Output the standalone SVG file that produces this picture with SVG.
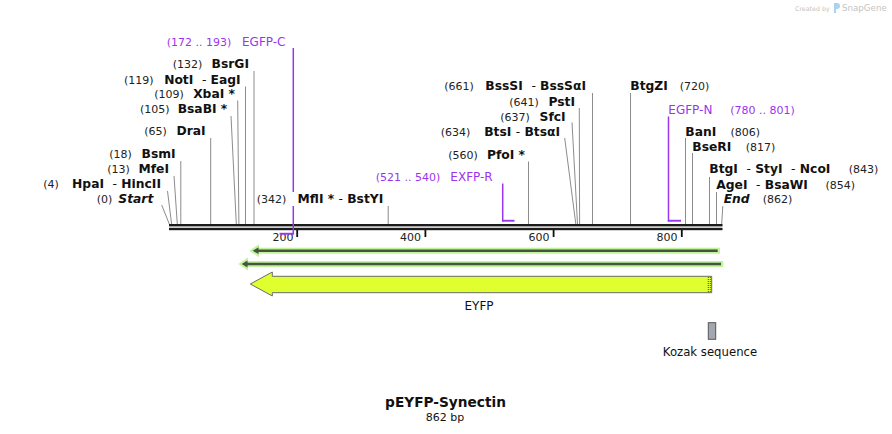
<svg xmlns="http://www.w3.org/2000/svg" width="892" height="434" viewBox="0 0 892 434">
<style>
text{font-family:"DejaVu Sans","Liberation Sans",sans-serif}
.num{font-size:11px;fill:#222}
.nm{font-size:12.3px;font-weight:bold;fill:#111}
.it{font-style:italic}
.d{font-weight:normal}
.pr{fill:#9b34f0}
.prs{font-size:12px}
.ld{stroke:#8c8c8c;stroke-width:1;fill:none}
.pl{stroke:#9b34f0;stroke-width:1.5;fill:none}
.bar{fill:#9b34f0}
.tick{fill:#111}
.tl{font-size:11px;fill:#222;text-anchor:end}
.halo{fill:#bff39c}
.orf{stroke:#46533f;stroke-width:2.4}
.orfh{fill:#46533f}
</style>

<g id="watermark">
<text x="795" y="10.5" style="font-size:6.3px;fill:#c4c4c4">Created by</text>
<path d="M834,3 h3 a3,3 0 0 1 0,6 h-1 v4 h-2 z" fill="#a8d4f2"/>
<text x="842" y="11" style="font-size:8.7px;fill:#c4c4c4">SnapGene</text>
</g>

<g id="backbone">
<rect x="169" y="224" width="553.5" height="2.4" fill="#1c1c1c"/>
<rect x="169" y="227.8" width="553.5" height="2.4" fill="#1c1c1c"/>
<rect class="tick" x="296.3" y="230" width="1.8" height="7"/>
<rect class="tick" x="424.5" y="230" width="1.8" height="7"/>
<rect class="tick" x="552.7" y="230" width="1.8" height="7"/>
<rect class="tick" x="680.9" y="230" width="1.8" height="7"/>
<text class="tl" x="293.5" y="241">200</text>
<text class="tl" x="421" y="241">400</text>
<text class="tl" x="549.5" y="241">600</text>
<text class="tl" x="677.5" y="241">800</text>
</g>

<g id="connectors">
<path class="ld" d="M161.7,205 L169.3,224"/>
<path class="ld" d="M167.5,191 L171.6,224"/>
<path class="ld" d="M174,176 L177.3,224"/>
<path class="ld" d="M180.8,161 V224"/>
<path class="ld" d="M210.7,138 V224"/>
<path class="ld" d="M231,116 L236.3,224"/>
<path class="ld" d="M237.7,100.5 L238.9,224"/>
<path class="ld" d="M245.5,86.5 V224"/>
<path class="ld" d="M254,71 V224"/>
<path class="ld" d="M388.2,206 V224"/>
<path class="ld" d="M528.5,161.5 V224"/>
<path class="ld" d="M564.7,138 L575.8,224"/>
<path class="ld" d="M572,122.5 L577.5,224"/>
<path class="ld" d="M579.3,108 L579.6,224"/>
<path class="ld" d="M592.5,93 V224"/>
<path class="ld" d="M630.5,93 V224"/>
<path class="ld" d="M685.5,138 V224"/>
<path class="ld" d="M692.5,153 V224"/>
<path class="ld" d="M709.5,177 V224"/>
<path class="ld" d="M716.5,192 V224"/>
<path class="ld" d="M722.8,206 L721.7,224"/>
</g>

<g id="primer-EGFP-C">
<path class="pl" d="M293.3,48 V234.5"/>
<rect class="bar" x="279.6" y="232.8" width="14" height="1.9"/>
<text class="num pr" x="166.7" y="45.7">(172 .. 193)</text>
<text class="pr prs" x="285.5" y="45.7" text-anchor="end">EGFP-C</text>
</g>

<g id="primer-EXFP-R">
<path class="pl" d="M502.7,183.5 V221.5"/>
<rect class="bar" x="502" y="219.8" width="12.5" height="1.9"/>
<text class="num pr" x="375.7" y="180.7">(521 .. 540)</text>
<text class="pr prs" x="492.7" y="180.7" text-anchor="end">EXFP-R</text>
</g>

<g id="primer-EGFP-N">
<path class="pl" d="M668.5,116.5 V221.5"/>
<rect class="bar" x="667.8" y="219.8" width="13.2" height="1.9"/>
<text class="pr prs" x="668.3" y="114">EGFP-N</text>
<text class="num pr" x="794.7" y="114" text-anchor="end">(780 .. 801)</text>
</g>

<g id="site-BsrGI"><text class="num" x="172.7" y="67.7">(132)</text><text class="nm" x="249" y="67.7" text-anchor="end">BsrGI</text></g>
<g id="site-NotI"><text class="num" x="124" y="84">(119)</text><text class="nm" x="240.7" y="84" text-anchor="end" xml:space="preserve">NotI  <tspan class="d">-</tspan> EagI</text></g>
<g id="site-XbaI"><text class="num" x="154.3" y="97.7">(109)</text><text class="nm" x="235" y="97.7" text-anchor="end">XbaI *</text></g>
<g id="site-BsaBI"><text class="num" x="140" y="112.7">(105)</text><text class="nm" x="227.3" y="112.7" text-anchor="end">BsaBI *</text></g>
<g id="site-DraI"><text class="num" x="144.3" y="135">(65)</text><text class="nm" x="205.7" y="135" text-anchor="end">DraI</text></g>
<g id="site-BsmI"><text class="num" x="109.3" y="158.3">(18)</text><text class="nm" x="175.7" y="158.3" text-anchor="end">BsmI</text></g>
<g id="site-MfeI"><text class="num" x="107.3" y="173.3">(13)</text><text class="nm" x="169" y="173.3" text-anchor="end">MfeI</text></g>
<g id="site-HpaI"><text class="num" x="43.3" y="188.3">(4)</text><text class="nm" x="161" y="188.3" text-anchor="end" xml:space="preserve">HpaI  <tspan class="d">-</tspan> HincII</text></g>
<g id="site-Start"><text class="num" x="96.7" y="203.3">(0)</text><text class="nm it" x="153.3" y="203.3" text-anchor="end">Start</text></g>
<g id="site-MflI">
<rect x="255" y="192" width="131" height="14" fill="#fff"/>
<text class="num" x="256.7" y="203.3">(342)</text><text class="nm" x="383.3" y="203.3" text-anchor="end" xml:space="preserve">MflI * <tspan class="d">-</tspan> BstYI</text></g>
<g id="site-PfoI"><text class="num" x="448.3" y="159">(560)</text><text class="nm" x="525" y="159" text-anchor="end">PfoI *</text></g>
<g id="site-BtsI"><text class="num" x="440.7" y="135.7">(634)</text><text class="nm" x="560" y="135.7" text-anchor="end" xml:space="preserve">BtsI <tspan class="d">-</tspan> BtsαI</text></g>
<g id="site-SfcI"><text class="num" x="500.3" y="120.7">(637)</text><text class="nm" x="565.7" y="120.7" text-anchor="end">SfcI</text></g>
<g id="site-PstI"><text class="num" x="509.3" y="106">(641)</text><text class="nm" x="575" y="106" text-anchor="end">PstI</text></g>
<g id="site-BssSI"><text class="num" x="444.3" y="90">(661)</text><text class="nm" x="586" y="90" text-anchor="end" xml:space="preserve">BssSI  <tspan class="d">-</tspan> BssSαI</text></g>
<g id="site-BtgZI"><text class="nm" x="630.3" y="90">BtgZI</text><text class="num" x="709.3" y="90" text-anchor="end">(720)</text></g>
<g id="site-BanI"><text class="nm" x="685.3" y="135.7">BanI</text><text class="num" x="760" y="135.7" text-anchor="end">(806)</text></g>
<g id="site-BseRI"><text class="nm" x="692.3" y="150.7">BseRI</text><text class="num" x="775.3" y="150.7" text-anchor="end">(817)</text></g>
<g id="site-BtgI"><text class="nm" x="709.3" y="173.3" xml:space="preserve">BtgI  <tspan class="d">-</tspan> StyI  <tspan class="d">-</tspan> NcoI</text><text class="num" x="878.3" y="173.3" text-anchor="end">(843)</text></g>
<g id="site-AgeI"><text class="nm" x="716.3" y="188.7" xml:space="preserve">AgeI  <tspan class="d">-</tspan> BsaWI</text><text class="num" x="855" y="188.7" text-anchor="end">(854)</text></g>
<g id="site-End"><text class="nm it" x="723.7" y="203.3">End</text><text class="num" x="792.3" y="203.3" text-anchor="end">(862)</text></g>

<g id="orf-1">
<rect class="halo" x="256" y="247.7" width="464" height="6"/>
<polygon class="halo" points="249.3,250.7 259,244.2 259,257.2"/>
<line class="orf" x1="256" y1="250.7" x2="717.7" y2="250.7"/>
<polygon class="orfh" points="252.7,250.7 258.5,247.3 258.5,254.1"/>
</g>

<g id="orf-2">
<rect class="halo" x="245" y="261" width="478.3" height="6"/>
<polygon class="halo" points="238.3,264 248,257.5 248,270.5"/>
<line class="orf" x1="245" y1="264" x2="721" y2="264"/>
<polygon class="orfh" points="241.7,264 247.5,260.6 247.5,267.4"/>
</g>

<g id="feature-EYFP">
<polygon points="250.3,284 272.3,272 272.3,276.3 711.7,276.3 711.7,292.7 272.3,292.7 272.3,296" fill="#e0ff2e" stroke="#6b6b6b" stroke-width="1"/>
<line x1="708.3" y1="277" x2="708.3" y2="292" stroke="#222" stroke-width="0.8" stroke-dasharray="1,1"/>
<line x1="710.3" y1="277" x2="710.3" y2="292" stroke="#222" stroke-width="0.8" stroke-dasharray="1,1"/>
<text x="479" y="309.5" text-anchor="middle" style="font-size:12px;fill:#111">EYFP</text>
</g>

<g id="feature-Kozak">
<rect x="708.3" y="322.7" width="7.4" height="16.6" fill="#a3a8b0" stroke="#555" stroke-width="1"/>
<text x="710" y="355.7" text-anchor="middle" style="font-size:11.7px;fill:#111">Kozak sequence</text>
</g>

<g id="title">
<text x="445.5" y="407.3" text-anchor="middle" style="font-size:13.7px;font-weight:bold;fill:#111">pEYFP-Synectin</text>
<text x="445" y="420.7" text-anchor="middle" style="font-size:11px;fill:#111">862 bp</text>
</g>
</svg>
